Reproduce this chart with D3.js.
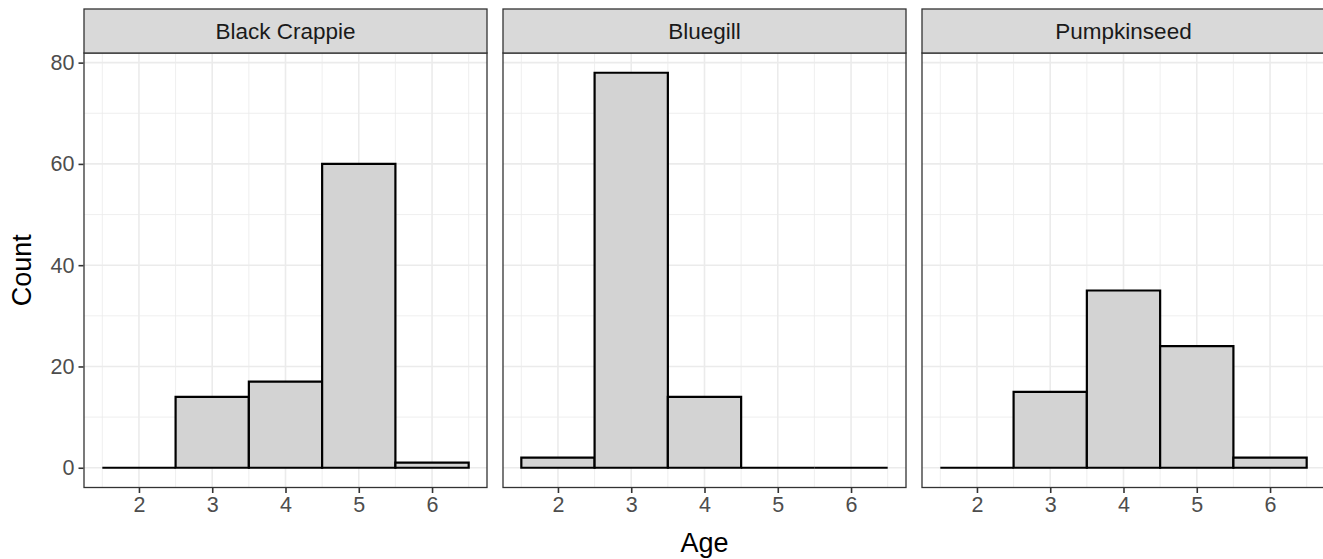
<!DOCTYPE html>
<html>
<head>
<meta charset="utf-8">
<script src="https://cdn.jsdelivr.net/npm/d3@7"></script>
<style>
  body { margin: 0; background: #fff; }
  text { font-family: "Liberation Sans", Arial, sans-serif; }
</style>
</head>
<body>
<svg id="chart" width="1323" height="559"></svg>
<script>
// data
var species = ["Black Crappie", "Bluegill", "Pumpkinseed"];
var ages = [2, 3, 4, 5, 6];
var blackCrappie = [0, 14, 17, 60, 1];
var bluegill = [2, 78, 14, 0, 0];
var pumpkinseed = [0, 15, 35, 24, 2];
var yTicks = [0, 20, 40, 60, 80];

var counts = [blackCrappie, bluegill, pumpkinseed];

var svg = d3.select("#chart");

// panel placement
var panelLeft = [84, 503, 922],
    panelWidth = 403,
    stripTop = 9,
    stripBottom = 53,
    panelBottom = 487.5;

var y = d3.scaleLinear().domain([-3.9, 81.9]).range([panelBottom, stripBottom]);

species.forEach(function(name, p){

  var x = d3.scaleLinear().domain([1.25, 6.75]).range([panelLeft[p], panelLeft[p] + panelWidth]);
  var g = svg.append("g");

  // minor grid
  var minorX = [1.5, 2.5, 3.5, 4.5, 5.5, 6.5];
  var minorY = [10, 30, 50, 70];
  g.selectAll(".mx").data(minorX).enter().append("line")
    .attr("x1", function(d){ return x(d); }).attr("x2", function(d){ return x(d); })
    .attr("y1", stripBottom).attr("y2", panelBottom)
    .attr("stroke", "#ebebeb").attr("stroke-width", 0.8);
  g.selectAll(".my").data(minorY).enter().append("line")
    .attr("y1", function(d){ return y(d); }).attr("y2", function(d){ return y(d); })
    .attr("x1", panelLeft[p]).attr("x2", panelLeft[p] + panelWidth)
    .attr("stroke", "#ebebeb").attr("stroke-width", 0.8);

  // major grid
  g.selectAll(".Mx").data(ages).enter().append("line")
    .attr("x1", function(d){ return x(d); }).attr("x2", function(d){ return x(d); })
    .attr("y1", stripBottom).attr("y2", panelBottom)
    .attr("stroke", "#ebebeb").attr("stroke-width", 1.6);
  g.selectAll(".My").data(yTicks).enter().append("line")
    .attr("y1", function(d){ return y(d); }).attr("y2", function(d){ return y(d); })
    .attr("x1", panelLeft[p]).attr("x2", panelLeft[p] + panelWidth)
    .attr("stroke", "#ebebeb").attr("stroke-width", 1.6);

  // histogram bars (paths so the zero bins still show as a line)
  var bars = ages.map(function(a, i){ return {age: a, n: counts[p][i]}; });
  g.selectAll(".bar").data(bars).enter().append("path")
    .attr("d", function(d){
      return "M" + x(d.age - 0.5) + "," + y(0)
        + "V" + y(d.n) + "H" + x(d.age + 0.5) + "V" + y(0) + "Z";
    })
    .attr("fill", "#d3d3d3")
    .attr("stroke", "#000")
    .attr("stroke-width", 2.2)
    .attr("stroke-linejoin", "miter");

  // panel border
  g.append("rect")
    .attr("x", panelLeft[p]).attr("y", stripBottom)
    .attr("width", panelWidth).attr("height", panelBottom - stripBottom)
    .attr("fill", "none").attr("stroke", "#333333").attr("stroke-width", 1.3);

  // strip
  g.append("rect")
    .attr("x", panelLeft[p]).attr("y", stripTop)
    .attr("width", panelWidth).attr("height", stripBottom - stripTop)
    .attr("fill", "#d9d9d9").attr("stroke", "#333333").attr("stroke-width", 1.3);
  g.append("text")
    .attr("x", panelLeft[p] + panelWidth / 2).attr("y", 39)
    .attr("text-anchor", "middle")
    .attr("font-size", 22.5)
    .attr("fill", "#1a1a1a")
    .text(name);

  // x axis
  var xAxis = d3.axisBottom(x).tickValues(ages).tickFormat(d3.format("d")).tickSize(5).tickPadding(4);
  var ax = g.append("g")
    .attr("transform", "translate(0," + (panelBottom + 0.5) + ")")
    .call(xAxis);
  ax.select(".domain").remove();
  ax.selectAll("line").attr("stroke", "#333333").attr("stroke-width", 1.6);
  ax.selectAll("text").attr("font-size", 21.5).attr("fill", "#4d4d4d")
    .attr("font-family", "Liberation Sans, Arial, sans-serif");

  // y axis on first panel only
  if (p == 0) {
    var yAxis = d3.axisLeft(y).tickValues(yTicks).tickFormat(d3.format("d")).tickSize(5).tickPadding(4);
    var ay = g.append("g")
      .attr("transform", "translate(" + (panelLeft[p] - 0.5) + ",0)")
      .call(yAxis);
    ay.select(".domain").remove();
    ay.selectAll("line").attr("stroke", "#333333").attr("stroke-width", 1.6);
    ay.selectAll("text").attr("font-size", 21.5).attr("fill", "#4d4d4d")
      .attr("font-family", "Liberation Sans, Arial, sans-serif");
  }
})

// axis titles
svg.append("text")
  .attr("x", (panelLeft[0] + panelLeft[2] + panelWidth) / 2)
  .attr("y", 551.5)
  .attr("text-anchor", "middle")
  .attr("font-size", 27)
  .attr("fill", "#000")
  .text("Age");

svg.append("text")
  .attr("transform", "translate(31," + ((stripBottom + panelBottom) / 2) + ") rotate(-90)")
  .attr("text-anchor", "middle")
  .attr("font-size", 27)
  .attr("fill", "#000")
  .text("Count");
</script>
</body>
</html>
